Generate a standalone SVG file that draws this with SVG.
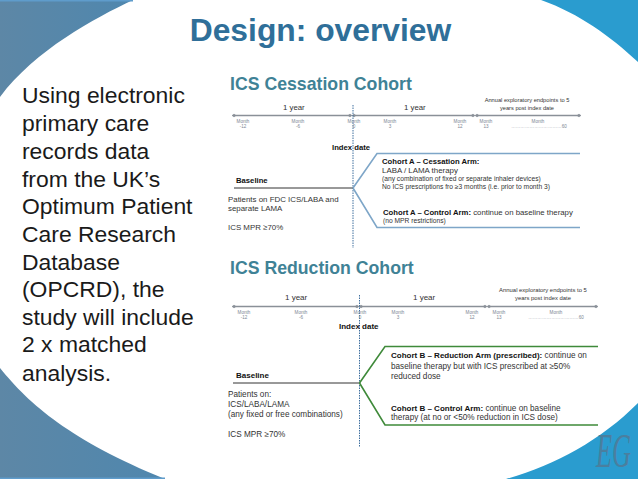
<svg xmlns="http://www.w3.org/2000/svg" width="638" height="479" viewBox="0 0 638 479">
<defs>
<linearGradient id="tl" x1="0" x2="1" y1="0" y2="0"><stop offset="0" stop-color="#5d87a6"/><stop offset="1" stop-color="#4f87ae"/></linearGradient>
<marker id="dot" viewBox="0 0 6 6" refX="3" refY="3" markerWidth="3" markerHeight="3" orient="auto"><polygon points="0,3 3,0.6 6,3 3,5.4" fill="#8a9098"/></marker>
</defs>
<style>
text{font-family:"Liberation Sans",Arial,sans-serif}
.h{font-weight:700;fill:#3f8296;font-size:17.700px}
.m{font-size:4.6px;fill:#7d8794;text-anchor:middle}
.e{font-size:5.7px;fill:#333;text-anchor:middle}
.t{font-size:7.9px;fill:#333}
.tb{font-size:8.200px;fill:#333}
.s{font-size:6.700px;fill:#333}
.b{font-size:7.700px;fill:#111;font-weight:700}
.bb{font-size:8px;fill:#111;font-weight:700}
.tl{fill:none;stroke:#8a9098;stroke-width:1.5;marker-start:url(#dot);marker-end:url(#dot)}
.idx{fill:none;stroke:#3f6f9e;stroke-width:1;stroke-dasharray:1.5 1}
.base{fill:none;stroke:#333;stroke-width:1}
.ab{fill:none;stroke:#7ea6c8;stroke-width:1.6}
.gb{fill:none;stroke:#3f8a3a;stroke-width:1.6}
</style>
<rect width="638" height="479" fill="#fff"/>
<g id="decor">
<path d="M0 0H133C95 18 35 50 0 97Z" fill="url(#tl)"/>
<rect width="133" height="1.5" fill="#5f9ccb"/>
<path d="M0 368C30 405 70 440 165 479H0Z" fill="url(#tl)"/>
<rect y="477.500" width="165" height="1.500" fill="#5f9ccb"/>
<path d="M541 0H638V62C610 36 580 14 541 0Z" fill="#2a9ccf"/>
<path d="M506 479C555 465 600 441 638 403V479Z" fill="#2a9ccf"/>
<text id="logo" transform="translate(596 467) scale(1.100 2)" font-size="24" font-style="italic" style="font-family:'Liberation Serif',serif" fill="#4a7f9f">EG</text>
</g>
<g id="title"><text x="320.500" y="41" font-size="31.800" font-weight="700" fill="#2f6f99" text-anchor="middle">Design: overview</text></g>
<g id="intro" font-size="22.900" fill="#1a1a1a">
<text x="22" y="103.300">Using electronic</text>
<text x="22" y="131.300">primary care</text>
<text x="22" y="159">records data</text>
<text x="22" y="186.700">from the UK’s</text>
<text x="22" y="214">Optimum Patient</text>
<text x="22" y="241.700">Care Research</text>
<text x="22" y="269.500">Database</text>
<text x="22" y="297">(OPCRD), the</text>
<text x="22" y="324.500">study will include</text>
<text x="22" y="352">2 x matched</text>
<text x="22" y="381">analysis.</text>
</g>
<g id="connectors">
<path class="tl" d="M234 115.500H350"/>
<path class="tl" d="M354 115.500H473"/>
<path class="tl" d="M477 115.500H579"/>
<path class="idx" d="M353 105V248"/>
<path class="base" d="M234 188H353"/>
<path class="ab" d="M353 188L377 153.500H580"/>
<path class="ab" d="M353 188L377 227.500H580"/>
<path class="tl" d="M234 306.500H357"/>
<path class="tl" d="M361 306.500H485"/>
<path class="tl" d="M489 306.500H596"/>
<path class="idx" d="M359.500 295V447"/>
<path class="base" d="M233 383H359.500"/>
<path class="gb" d="M359.500 383L385 346.500H598"/>
<path class="gb" d="M359.500 383L385 425H598"/>
</g>
<g id="cessation">
<text class="h" x="230" y="90">ICS Cessation Cohort</text>
<text x="283" y="110" font-size="7.800" fill="#333">1 year</text>
<text x="404" y="110" font-size="7.800" fill="#333">1 year</text>
<text class="e" x="527" y="102">Annual exploratory endpoints to 5</text>
<text class="e" x="527" y="109.500">years post index date</text>
<text class="m" x="243" y="123">Month</text><text class="m" x="243" y="128">-12</text>
<text class="m" x="298" y="123">Month</text><text class="m" x="298" y="128">-6</text>
<text class="m" x="354" y="123">Month</text><text class="m" x="354" y="128">0</text>
<text class="m" x="390" y="123">Month</text><text class="m" x="390" y="128">3</text>
<text class="m" x="460" y="123">Month</text><text class="m" x="460" y="128">12</text>
<text class="m" x="486" y="123">Month</text><text class="m" x="486" y="128">13</text>
<text class="m" x="538" y="123">Month</text><text class="m" x="539" y="128">……………………………60</text>
<text class="b" x="332" y="150">Index date</text>
</g>
<g id="cessation-baseline">
<text class="b" x="236" y="183">Baseline</text>
<text class="t" x="228" y="202">Patients on FDC ICS/LABA and</text>
<text class="t" x="228" y="211">separate LAMA</text>
<text class="t" x="228" y="230">ICS MPR ≥70%</text>
</g>
<g id="cessation-arm">
<text class="b" x="382" y="164">Cohort A – Cessation Arm:</text>
<text class="t" x="382" y="173">LABA / LAMA therapy</text>
<text class="s" x="382" y="180.500">(any combination of fixed or separate inhaler devices)</text>
<text class="s" x="382" y="188.500">No ICS prescriptions fro ≥3 months (i.e. prior to month 3)</text>
</g>
<g id="cessation-control">
<text x="383" y="215" font-size="7.800" fill="#333"><tspan class="b">Cohort A – Control Arm:</tspan> continue on baseline therapy</text>
<text class="s" x="383" y="222.500">(no MPR restrictions)</text>
</g>
<g id="reduction">
<text class="h" x="230" y="274">ICS Reduction Cohort</text>
<text x="285" y="300" font-size="8" fill="#333">1 year</text>
<text x="413" y="300" font-size="8" fill="#333">1 year</text>
<text class="e" x="543" y="292" style="font-size:5.900px">Annual exploratory endpoints to 5</text>
<text class="e" x="543" y="299.500" style="font-size:5.900px">years post index date</text>
<text class="m" x="244" y="314">Month</text><text class="m" x="244" y="319">-12</text>
<text class="m" x="301" y="314">Month</text><text class="m" x="301" y="319">-6</text>
<text class="m" x="360" y="314">Month</text><text class="m" x="360" y="319">0</text>
<text class="m" x="398" y="314">Month</text><text class="m" x="398" y="319">3</text>
<text class="m" x="472" y="314">Month</text><text class="m" x="472" y="319">12</text>
<text class="m" x="499" y="314">Month</text><text class="m" x="499" y="319">13</text>
<text class="m" x="556" y="314">Month</text><text class="m" x="556" y="319">……………………………60</text>
<text class="bb" x="339" y="329">Index date</text>
</g>
<g id="reduction-baseline">
<text class="bb" x="236" y="378">Baseline</text>
<text class="tb" x="228" y="397">Patients on:</text>
<text class="tb" x="228" y="407">ICS/LABA/LAMA</text>
<text class="tb" x="228" y="417">(any fixed or free combinations)</text>
<text class="tb" x="228" y="437">ICS MPR ≥70%</text>
</g>
<g id="reduction-arm">
<text x="391" y="358" font-size="8.200" fill="#333"><tspan class="bb">Cohort B – Reduction Arm (prescribed):</tspan> continue on</text>
<text class="tb" x="391" y="369">baseline therapy but with ICS prescribed at ≥50%</text>
<text class="tb" x="391" y="379">reduced dose</text>
</g>
<g id="reduction-control">
<text x="391" y="411" font-size="8.200" fill="#333"><tspan class="bb">Cohort B – Control Arm:</tspan> continue on baseline</text>
<text class="tb" x="391" y="420">therapy (at no or &lt;50% reduction in ICS dose)</text>
</g>
</svg>
